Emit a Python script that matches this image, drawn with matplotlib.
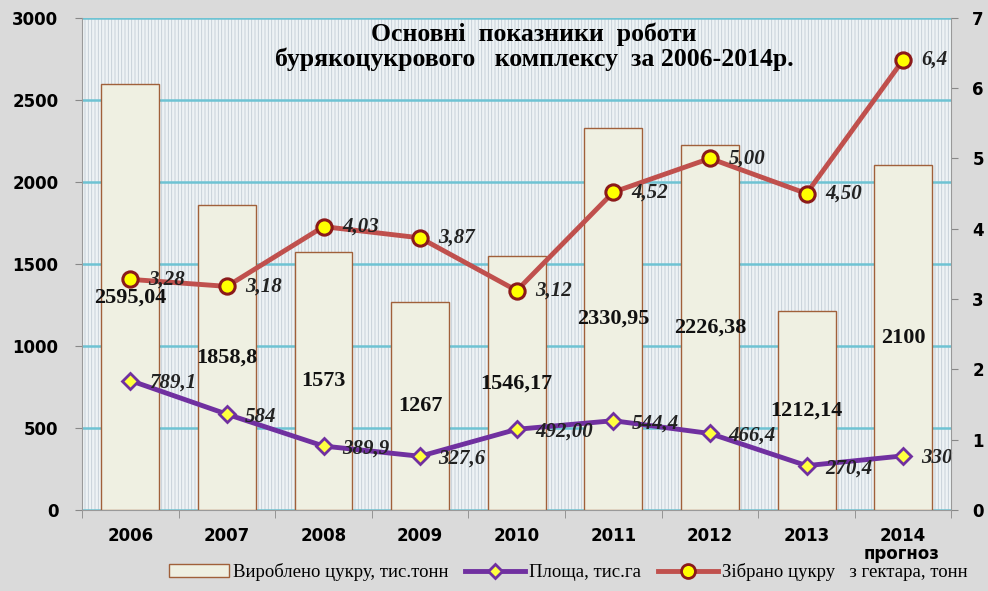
#!/usr/bin/env python
# coding: utf-8

import numpy as np
from matplotlib import pyplot as plt
from matplotlib.patches import Rectangle, Patch
from matplotlib.lines import Line2D

years = ['2006', '2007', '2008', '2009', '2010', '2011', '2012', '2013', '2014']
sugar = [2595.04, 1858.8, 1573, 1267, 1546.17, 2330.95, 2226.38, 1212.14, 2100]
sugar_labels = ['2595,04', '1858,8', '1573', '1267', '1546,17', '2330,95', '2226,38', '1212,14', '2100']
area = [789.1, 584, 389.9, 327.6, 492.0, 544.4, 466.4, 270.4, 330]
area_labels = ['789,1', '584', '389,9', '327,6', '492,00', '544,4', '466,4', '270,4', '330']
yield_t = [3.28, 3.18, 4.03, 3.87, 3.12, 4.52, 5.00, 4.50, 6.4]
yield_labels = ['3,28', '3,18', '4,03', '3,87', '3,12', '4,52', '5,00', '4,50', '6,4']

serif = 'Liberation Serif'
purple = '#7030a0'
red = '#c0504d'

plt.rcParams['hatch.linewidth'] = 0.6

fig = plt.figure(figsize=(9.88, 5.91), dpi=100, facecolor='#dadada')
ax = fig.add_axes([0.083, 0.137, 0.880, 0.833])
ax.set_facecolor('#eef3f5')
ax.add_patch(Rectangle((0, 0), 1, 1, transform=ax.transAxes, facecolor='none',
                       edgecolor='#c2ccd4', hatch='|||||', lw=0, zorder=0))

x = np.arange(len(years))
ax.bar(x, sugar, width=0.6, color='#eff0e2', edgecolor='#a0603a', linewidth=1.0, zorder=3)
for xi, v, lab in zip(x, sugar, sugar_labels):
    ax.text(xi, v / 2, lab, ha='center', va='center', fontsize=16, fontweight='bold',
            family=serif, color='#111111', zorder=6)

ax.plot(x, area, color=purple, lw=3.5, marker='D', ms=8, mfc='#ffff40', mec=purple,
        mew=2, zorder=5)
for xi, v, lab in zip(x, area, area_labels):
    ax.text(xi + 0.19, v - 15, lab, ha='left', va='center', fontsize=15, fontweight='bold',
            style='italic', family=serif, color='#222222', zorder=6)

ax.set_xlim(-0.5, len(years) - 0.5)
ax.set_ylim(0, 3000)
ax.set_yticks(np.arange(0, 3001, 500))
ax.grid(axis='y', color='#6ec3d3', lw=1.8, zorder=1)
ax.set_axisbelow(True)
ax.set_xticks(x)
ax.set_xticklabels(years)
ax.set_xticks(np.arange(-0.5, len(years), 1), minor=True)
ax.tick_params(axis='x', which='major', length=0, pad=12)
ax.tick_params(axis='x', which='minor', length=6, color='#888888')
ax.tick_params(axis='y', length=5, color='#888888', pad=12)
for t in ax.get_xticklabels() + ax.get_yticklabels():
    t.set_fontweight('bold')
    t.set_fontsize(12)
for s in ['top', 'right']:
    ax.spines[s].set_visible(False)
for s in ['left', 'bottom']:
    ax.spines[s].set_color('#999999')

ax2 = ax.twinx()
ax2.plot(x, yield_t, color=red, lw=3.5, marker='o', ms=11, mfc='#ffff00', mec='#8b1a1a',
         mew=2.2, zorder=5)
for xi, v, lab in zip(x, yield_t, yield_labels):
    ax2.text(xi + 0.19, v, lab, ha='left', va='center', fontsize=15, fontweight='bold',
             style='italic', family=serif, color='#222222', zorder=6)
ax2.set_ylim(0, 7)
ax2.set_yticks(range(0, 8))
ax2.tick_params(axis='y', length=5, color='#888888', pad=10)
for t in ax2.get_yticklabels():
    t.set_fontweight('bold')
    t.set_fontsize(12)
for s in ['top', 'left', 'bottom']:
    ax2.spines[s].set_visible(False)
ax2.spines['right'].set_color('#999999')

ax.text(0.52, 0.99, 'Основні  показники  роботи\nбурякоцукрового   комплексу  за 2006-2014р.',
        transform=ax.transAxes, ha='center', va='top', fontsize=18.5, fontweight='bold',
        family=serif, linespacing=1.05, zorder=7)

fig.text(0.913, 0.062, 'прогноз', ha='center', va='center', fontsize=12, fontweight='bold')

handles = [Patch(facecolor='#eff0e2', edgecolor='#a0603a'),
           Line2D([], [], color=purple, lw=3.5, marker='D', ms=7, mfc='#ffff40', mec=purple, mew=2),
           Line2D([], [], color=red, lw=3.5, marker='o', ms=10, mfc='#ffff00', mec='#8b1a1a', mew=2)]
labels = ['Вироблено цукру, тис.тонн', 'Площа, тис.га', 'Зібрано цукру   з гектара, тонн']
fig.legend(handles, labels, loc='center', bbox_to_anchor=(0.575, 0.032), ncol=3, frameon=False,
           prop={'family': serif, 'size': 13.5}, handlelength=3.2, handletextpad=0.2,
           columnspacing=0.9)

fig.savefig('out.png', dpi=100, facecolor=fig.get_facecolor())
